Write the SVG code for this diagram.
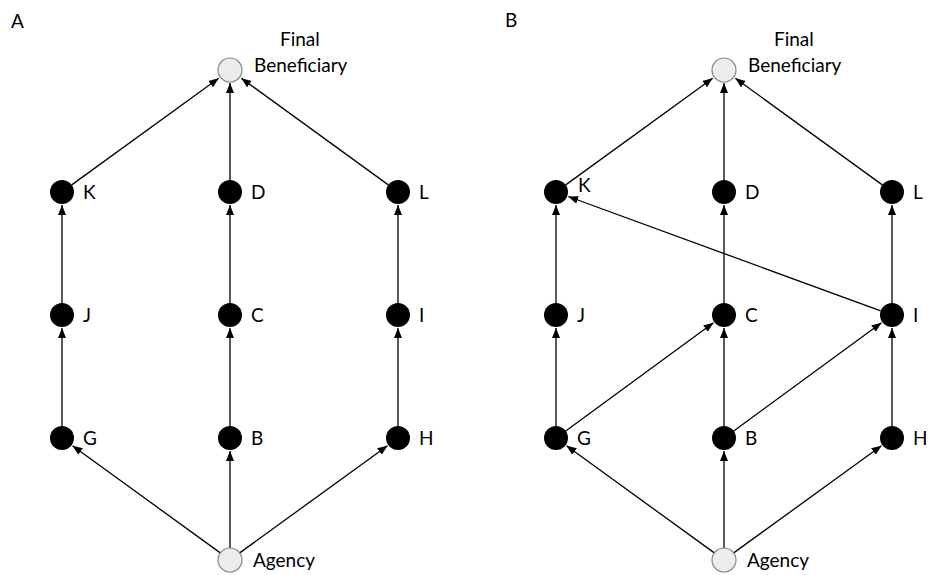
<svg xmlns="http://www.w3.org/2000/svg" width="935" height="575" viewBox="0 0 935 575">
<style>
.bg{fill:#fff}
.n{fill:#000}
.g{fill:#ececec;stroke:#888;stroke-width:1.2}
.t{font-family:Lato,"Open Sans",sans-serif;font-size:19px;fill:#000}
.e line{stroke:#000;stroke-width:1.3;marker-end:url(#ah)}
</style>
<defs>
<marker id="ah" markerWidth="10" markerHeight="8" refX="10" refY="4" orient="auto" markerUnits="userSpaceOnUse">
<path d="M0,0 L10,4 L0,8 Z" fill="#000"/>
</marker>
</defs>
<rect class="bg" width="935" height="575"/>
<text class="t" x="11" y="28">A</text>
<text class="t" x="505" y="27">B</text>

<g id="connectors-A" class="e">
<line x1="220.3" y1="552.9" x2="72.5" y2="445.7"/>
<line x1="230" y1="548" x2="230" y2="451"/>
<line x1="239.7" y1="552.9" x2="387.5" y2="445.7"/>
<line x1="62" y1="426" x2="62" y2="328"/>
<line x1="62" y1="303" x2="62" y2="205"/>
<line x1="230" y1="426" x2="230" y2="328"/>
<line x1="230" y1="303" x2="230" y2="205"/>
<line x1="398" y1="426" x2="398" y2="328"/>
<line x1="398" y1="303" x2="398" y2="205"/>
<line x1="71.7" y1="184.9" x2="218.7" y2="78.2"/>
<line x1="230" y1="180" x2="230" y2="83"/>
<line x1="388.3" y1="184.9" x2="241.3" y2="78.2"/>
</g>
<g id="connectors-B" class="e">
<line x1="714.3" y1="552.9" x2="566.5" y2="445.7"/>
<line x1="724" y1="548" x2="724" y2="451"/>
<line x1="733.7" y1="552.9" x2="881.5" y2="445.7"/>
<line x1="556" y1="426" x2="556" y2="328"/>
<line x1="556" y1="303" x2="556" y2="205"/>
<line x1="724" y1="426" x2="724" y2="328"/>
<line x1="724" y1="303" x2="724" y2="205"/>
<line x1="892" y1="426" x2="892" y2="328"/>
<line x1="892" y1="303" x2="892" y2="205"/>
<line x1="565.7" y1="184.9" x2="712.7" y2="78.2"/>
<line x1="724" y1="180" x2="724" y2="83"/>
<line x1="882.3" y1="184.9" x2="735.3" y2="78.2"/>
<line x1="565.7" y1="431" x2="713.5" y2="322.7"/>
<line x1="733.7" y1="431" x2="881.5" y2="322.7"/>
<line x1="880.7" y1="310.9" x2="568.2" y2="196.5"/>
</g>

<g id="A-beneficiary"><circle class="g" cx="230" cy="70" r="12"/><text class="t" x="280" y="46">Final</text><text class="t" x="254" y="72">Beneficiary</text></g>
<g id="A-agency"><circle class="g" cx="230" cy="560" r="12"/><text class="t" x="253" y="567">Agency</text></g>
<g id="A-K"><circle class="n" cx="62" cy="192" r="12"/><text class="t" x="83" y="199">K</text></g>
<g id="A-D"><circle class="n" cx="230" cy="192" r="12"/><text class="t" x="251" y="199">D</text></g>
<g id="A-L"><circle class="n" cx="398" cy="192" r="12"/><text class="t" x="419" y="199">L</text></g>
<g id="A-J"><circle class="n" cx="62" cy="315" r="12"/><text class="t" x="83" y="322">J</text></g>
<g id="A-C"><circle class="n" cx="230" cy="315" r="12"/><text class="t" x="251" y="322">C</text></g>
<g id="A-I"><circle class="n" cx="398" cy="315" r="12"/><text class="t" x="419" y="322">I</text></g>
<g id="A-G"><circle class="n" cx="62" cy="438" r="12"/><text class="t" x="83" y="445">G</text></g>
<g id="A-B"><circle class="n" cx="230" cy="438" r="12"/><text class="t" x="251" y="445">B</text></g>
<g id="A-H"><circle class="n" cx="398" cy="438" r="12"/><text class="t" x="419" y="445">H</text></g>

<g id="B-beneficiary"><circle class="g" cx="724" cy="70" r="12"/><text class="t" x="774" y="46">Final</text><text class="t" x="748" y="72">Beneficiary</text></g>
<g id="B-agency"><circle class="g" cx="724" cy="560" r="12"/><text class="t" x="747" y="567">Agency</text></g>
<g id="B-K"><circle class="n" cx="556" cy="192" r="12"/><text class="t" x="578" y="192">K</text></g>
<g id="B-D"><circle class="n" cx="724" cy="192" r="12"/><text class="t" x="745" y="199">D</text></g>
<g id="B-L"><circle class="n" cx="892" cy="192" r="12"/><text class="t" x="913" y="199">L</text></g>
<g id="B-J"><circle class="n" cx="556" cy="315" r="12"/><text class="t" x="577" y="322">J</text></g>
<g id="B-C"><circle class="n" cx="724" cy="315" r="12"/><text class="t" x="745" y="322">C</text></g>
<g id="B-I"><circle class="n" cx="892" cy="315" r="12"/><text class="t" x="913" y="322">I</text></g>
<g id="B-G"><circle class="n" cx="556" cy="438" r="12"/><text class="t" x="577" y="445">G</text></g>
<g id="B-B"><circle class="n" cx="724" cy="438" r="12"/><text class="t" x="745" y="445">B</text></g>
<g id="B-H"><circle class="n" cx="892" cy="438" r="12"/><text class="t" x="913" y="445">H</text></g>
</svg>
